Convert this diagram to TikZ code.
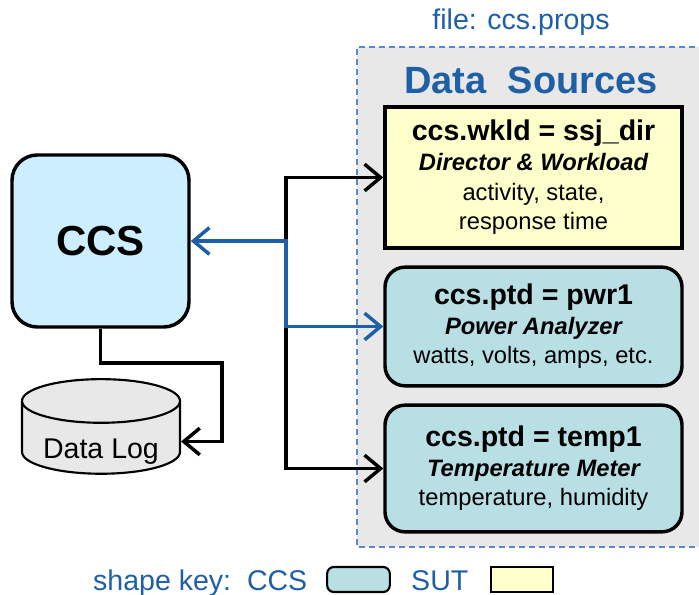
\documentclass[tikz,border=0pt]{standalone}
\usepackage{fontspec}
\setmainfont{Liberation Sans}
\usetikzlibrary{arrows.meta,shapes.geometric}
\definecolor{ccsblue}{HTML}{1F5FA6}
\definecolor{dashblue}{HTML}{5B88CC}
\definecolor{panelgray}{HTML}{E8E8E8}
\definecolor{sutyellow}{HTML}{FFFFCC}
\definecolor{ccsteal}{HTML}{B8DFE3}
\definecolor{ccsfill}{HTML}{CCEEFF}
\newcommand{\lgtxt}{\fontsize{21.4}{22.2}\selectfont}
\newcommand{\smtxt}{\fontsize{17.8}{22.2}\selectfont}
\tikzset{
  srcbox/.style={draw, line width=2.6pt, minimum width=222.75pt, align=center,
    font=\smtxt, inner sep=0pt},
  sutbox/.style={srcbox, fill=sutyellow, minimum height=105.75pt},
  ptdbox/.style={srcbox, fill=ccsteal, rounded corners=15pt},
  barb/.tip={Straight Barb[length=12pt,width=20pt]},
  link/.style={line width=2.6pt},
  keybox/.style={draw, line width=1.6pt, minimum width=47pt, minimum height=18.75pt,
    inner sep=0pt}
}
\begin{document}
\begin{tikzpicture}[x=0.75pt,y=-0.75pt]
  \useasboundingbox (0,0) rectangle (699,595);
  \fill[panelgray] (357,47) rectangle (705,547);
  \draw[dashblue, line width=1.8pt, dash pattern=on 4.5pt off 3pt] (705,47) -- (357,47) -- (357,547) -- (705,547);
  \node[text=ccsblue, font=\lgtxt] (file) at (521,22) {file: ccs.props};
  \node[text=ccsblue, font=\fontsize{28.5}{30}\selectfont\bfseries] (title) at (531,80) {Data~~Sources};
  \node[draw, line width=2.6pt, fill=ccsfill, rounded corners=19pt, minimum width=132.75pt,
    minimum height=129pt, font=\fontsize{31.5}{33}\selectfont\bfseries] (ccs) at (100.5,241) {CCS};
  \node[draw, line width=1.6pt, fill=panelgray, cylinder, shape border rotate=90, aspect=0.35,
    minimum width=118.5pt, minimum height=62pt, font=\lgtxt] (log) at (101,441.5) {\raisebox{-7pt}[15.3pt][4.5pt]{Data Log}};
  \node[sutbox] (wkld) at (533.5,177.5)
    {{\lgtxt\bfseries ccs.wkld = ssj\_dir}\\{\bfseries\itshape Director \& Workload}\\activity, state,\\response time};
  \node[ptdbox, minimum height=89pt] (pwr) at (533.5,326.5)
    {{\lgtxt\bfseries ccs.ptd = pwr1}\\{\bfseries\itshape Power Analyzer}\\watts, volts, amps, etc.};
  \node[ptdbox, minimum height=95pt] (temp) at (533.5,468.5)
    {{\lgtxt\bfseries ccs.ptd = temp1}\\{\bfseries\itshape Temperature Meter}\\temperature, humidity};
  \coordinate (hub) at (286,326.5);
  \coordinate (logbend) at (222,363);
  \begin{scope}
    \draw[link, barb-barb] (wkld.west) -| (hub) |- (temp.west);
    \draw[link, ccsblue, barb-barb] (ccs.east) -| (hub) -- (pwr.west);
    \draw[link, -barb] (ccs.south) |- (logbend) |- (log.east);
  \end{scope}
  \node[text=ccsblue, font=\lgtxt, anchor=base east] (keylabel) at (312,590) {shape key:~~CCS};
  \node[keybox, fill=ccsteal, rounded corners=5pt] (keyccs) at (358.5,579.5) {};
  \node[text=ccsblue, font=\lgtxt, anchor=base east] (sutlabel) at (473,590) {SUT};
  \node[keybox, fill=sutyellow] (keysut) at (522,579.5) {};
\end{tikzpicture}
\end{document}
